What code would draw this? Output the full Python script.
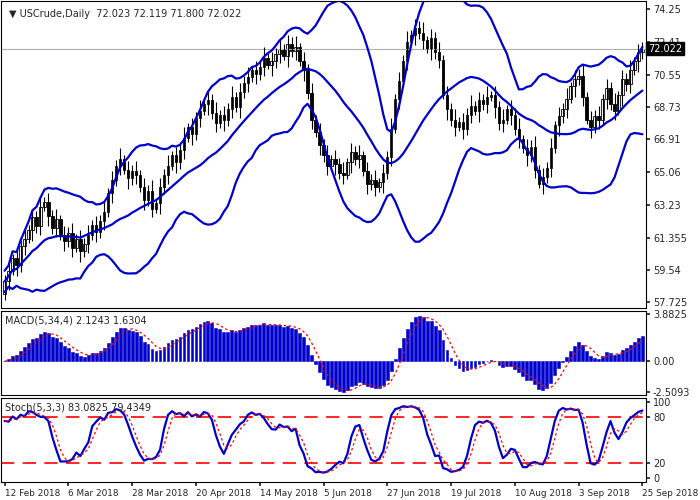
import numpy as np, pandas as pd, matplotlib
matplotlib.use("Agg")
import matplotlib.pyplot as plt, seaborn as sns

closes = [58.9,59.5,60.2,59.8,60.9,61.3,61.8,62.5,62.0,63.1,63.4,62.6,61.9,62.4,61.5,61.2,
61.6,60.8,61.3,60.6,61.0,61.5,62.1,61.7,62.3,62.8,63.9,64.6,65.4,65.8,65.2,64.7,65.1,64.9,
64.2,63.5,64.0,63.0,63.3,64.2,64.9,65.4,66.0,65.6,66.3,67.0,67.6,67.2,68.1,68.5,68.9,69.1,
68.4,67.8,68.3,68.0,68.6,69.3,68.7,69.6,70.1,70.4,70.8,70.6,71.0,71.5,71.1,71.3,71.7,72.0,
71.6,72.3,71.9,72.1,71.3,70.8,69.5,68.0,67.3,66.6,66.0,65.4,65.8,65.5,65.0,64.9,65.6,66.2,
65.8,66.0,65.1,64.4,64.6,64.2,64.5,65.0,65.9,67.5,69.2,70.2,71.3,72.4,72.8,73.2,72.9,72.5,
72.0,72.6,71.8,71.4,69.4,68.6,68.0,67.6,67.9,67.5,68.3,68.8,68.5,69.1,68.9,69.3,69.4,68.7,
67.8,68.0,68.6,68.3,67.5,66.9,66.4,66.0,66.5,65.2,64.4,64.8,65.3,66.4,67.7,68.2,68.6,69.2,
69.9,70.3,70.5,69.3,68.0,67.6,68.2,68.0,69.2,69.8,68.9,68.5,69.4,70.3,70.0,70.8,71.3,71.8,72.022]
first_open = 58.2
wick = [0.35,0.6,0.25,0.5]
date_labels = ['12 Feb 2018','6 Mar 2018','28 Mar 2018','20 Apr 2018','14 May 2018','5 Jun 2018',
               '27 Jun 2018','19 Jul 2018','10 Aug 2018','3 Sep 2018','25 Sep 2018']

N = len(closes)
c = pd.Series(closes)
o = pd.Series([first_open] + closes[:-1])
w = pd.Series([wick[i % 4] for i in range(N)])
h = np.maximum(o, c) + w
l = np.minimum(o, c) - w[::-1].values
idx = np.arange(N)

mid = c.rolling(20, min_periods=1).mean()
sd = c.rolling(20, min_periods=2).std(ddof=0).bfill()
up, dn = mid + 2*sd, mid - 2*sd
macd = c.ewm(span=5, adjust=False).mean() - c.ewm(span=34, adjust=False).mean()
sig = macd.rolling(4, min_periods=1).mean()
ll = l.rolling(5, min_periods=1).min(); hh = h.rolling(5, min_periods=1).max()
k = ((c - ll).rolling(3, min_periods=1).sum() / (hh - ll).rolling(3, min_periods=1).sum() * 100)
d = k.rolling(3, min_periods=1).mean()

sns.set_theme(style="white")
plt.rcParams['font.family'] = ['DejaVu Sans']
fig = plt.figure(figsize=(7, 5), dpi=100)
W, H = 700, 500
def ax_at(y0, y1):
    a = fig.add_axes([1/W, 1-y1/H, 645/W, (y1-y0)/H])
    a.set_xlim(-0.9, N - 1 + 0.9)
    a.yaxis.tick_right()
    a.tick_params(axis='y', labelsize=7, length=3, direction='out', pad=2)
    a.tick_params(axis='x', labelbottom=False, length=0)
    for s in a.spines.values(): s.set_color('black'); s.set_linewidth(0.8)
    return a
ax1 = ax_at(1, 308); ax2 = ax_at(311, 395); ax3 = ax_at(398, 482)
blue = '#0000cc'

ax1.axhline(72.022, color='#b0b0b0', lw=0.8)
for i in idx:
    ax1.vlines(i, l[i], h[i], color='black', lw=0.8)
    bull = c[i] >= o[i]
    ax1.bar(i, abs(c[i]-o[i]) or 0.03, bottom=min(o[i], c[i]), width=0.6,
            color='white' if bull else 'black', edgecolor='black', lw=0.6)
for s in (up, mid, dn):
    sns.lineplot(x=idx, y=s.values, ax=ax1, color=blue, lw=1.6)
ax1.set_ylim(57.4, 74.7)
ax1.set_yticks([57.725, 59.54, 61.355, 63.23, 65.06, 66.91, 68.73, 70.55, 72.41, 74.25])
ax1.set_yticklabels(['57.725','59.54','61.355','63.23','65.06','66.91','68.73','70.55','72.41','74.25'])
ax1.text(1.003, 72.022, '72.022', transform=ax1.get_yaxis_transform(), fontsize=7, color='white',
         va='center', ha='left', bbox=dict(boxstyle='square,pad=0.2', fc='black', ec='black'))
ax1.text(0.012, 0.975, '\u25bc USCrude,Daily  72.023 72.119 71.800 72.022', transform=ax1.transAxes,
         fontsize=7, va='top', ha='left')

ax2.bar(idx, macd, width=0.7, color=blue, edgecolor=blue, lw=0.4)
sns.lineplot(x=idx, y=sig.values, ax=ax2, color='red', lw=0.9, linestyle=(0, (2, 2)))
ax2.set_ylim(-2.75, 4.1)
ax2.set_yticks([-2.5093, 0, 3.8825]); ax2.set_yticklabels(['-2.5093', '0.00', '3.8825'])
ax2.text(0.006, 0.95, 'MACD(5,34,4) 2.1243 1.6304', transform=ax2.transAxes, fontsize=7, va='top')

for lv in (20, 80):
    ax3.axhline(lv, color='red', lw=1.2, dashes=(8, 5))
sns.lineplot(x=idx, y=k.values, ax=ax3, color=blue, lw=1.6)
sns.lineplot(x=idx, y=d.values, ax=ax3, color='red', lw=0.9, linestyle=(0, (2, 2)))
ax3.set_ylim(-5, 105)
ax3.set_yticks([0, 20, 80, 100])
ax3.text(0.006, 0.95, 'Stoch(5,3,3) 83.0825 79.4349', transform=ax3.transAxes, fontsize=7, va='top')

ticks = [N - 1 - 16 * j for j in range(len(date_labels) - 1, -1, -1)]
ax3.set_xticks(ticks)
ax3.set_xticklabels(date_labels, ha='left')
ax3.tick_params(axis='x', labelbottom=True, labelsize=6.4, length=3, direction='out', pad=2, bottom=True)
for a in (ax1, ax2): a.set_xticks(ticks); a.tick_params(axis='x', length=0)
fig.savefig("out.png", dpi=100)
